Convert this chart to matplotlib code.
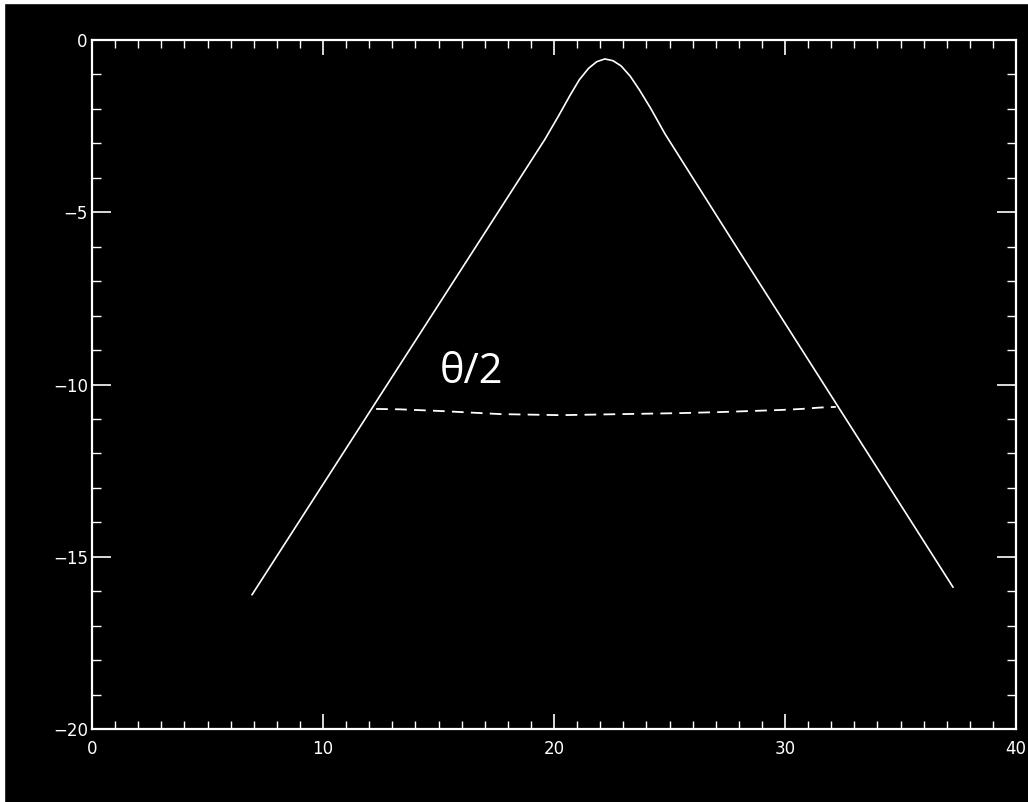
import matplotlib
matplotlib.use("Agg")
import matplotlib.pyplot as plt
from matplotlib.patches import Rectangle
from matplotlib.ticker import MultipleLocator

# Solid curve (profile)
curve_x = [6.93, 16.8, 19.6, 20.2, 20.7, 21.1, 21.5, 21.85, 22.2, 22.55, 22.9, 23.3, 23.7, 24.2, 24.8, 27.71, 37.27]
curve_y = [-16.1, -5.81, -2.89, -2.2, -1.6, -1.15, -0.82, -0.63, -0.55, -0.6, -0.75, -1.05, -1.45, -2.0, -2.72, -5.81, -15.88]

# Dashed level line
dash_x = [12.3, 13.3, 15.1, 17.7, 20.3, 22.9, 25.5, 27.2, 29.8, 30.7, 31.5, 32.2]
dash_y = [-10.71, -10.72, -10.77, -10.86, -10.89, -10.86, -10.83, -10.80, -10.74, -10.71, -10.67, -10.65]

x_ticks = [0, 10, 20, 30, 40]
y_ticks = [0, -5, -10, -15, -20]
annotation = "θ/2"

fig = plt.figure(figsize=(10.28, 8.02), dpi=100, facecolor="black")
ax = fig.add_axes([92/1028, 1 - 729/802, 924/1028, 689/802])
ax.set_facecolor("black")

ax.plot(curve_x, curve_y, color="white", lw=1.2, solid_joinstyle="round")
ln, = ax.plot(dash_x, dash_y, color="white", lw=1.3)
ln.set_dashes([6.5, 4.0])

ax.set_xlim(0, 40)
ax.set_ylim(-20, 0)
ax.set_xticks(x_ticks)
ax.set_yticks(y_ticks)
ax.set_xticklabels([str(v) for v in x_ticks])
ax.set_yticklabels([str(v).replace("-", "\u2212") for v in y_ticks])
ax.xaxis.set_minor_locator(MultipleLocator(1))
ax.yaxis.set_minor_locator(MultipleLocator(1))

for s in ax.spines.values():
    s.set_color("white")
    s.set_linewidth(1.6)

ax.tick_params(axis="x", which="major", direction="in", length=11, width=1.2,
               color="white", labelcolor="white", top=True, bottom=True,
               labelsize=12, pad=8)
ax.tick_params(axis="x", which="minor", direction="in", length=6, width=1.0,
               color="white", top=True, bottom=True)
ax.tick_params(axis="y", which="major", direction="in", length=14, width=1.2,
               color="white", labelcolor="white", left=True, right=True,
               labelsize=12, pad=3)
ax.tick_params(axis="y", which="minor", direction="in", length=6.5, width=1.0,
               color="white", left=True, right=True)
for lab in ax.get_xticklabels() + ax.get_yticklabels():
    lab.set_fontfamily(["DejaVu Sans Condensed", "DejaVu Sans"])

ax.text(15.06, -9.64, annotation, color="white", fontsize=30,
        family=["Open Sans", "DejaVu Sans"], ha="left", va="center")

# thin light frame at left/top edges of the picture
fig.patches.append(Rectangle((0, 0), 4/1028, 1, transform=fig.transFigure,
                             color="white", zorder=0))
fig.patches.append(Rectangle((0, 1 - 3/802), 1, 3/802, transform=fig.transFigure,
                             color="white", zorder=0))

fig.savefig("out.png", dpi=100, facecolor="black")
